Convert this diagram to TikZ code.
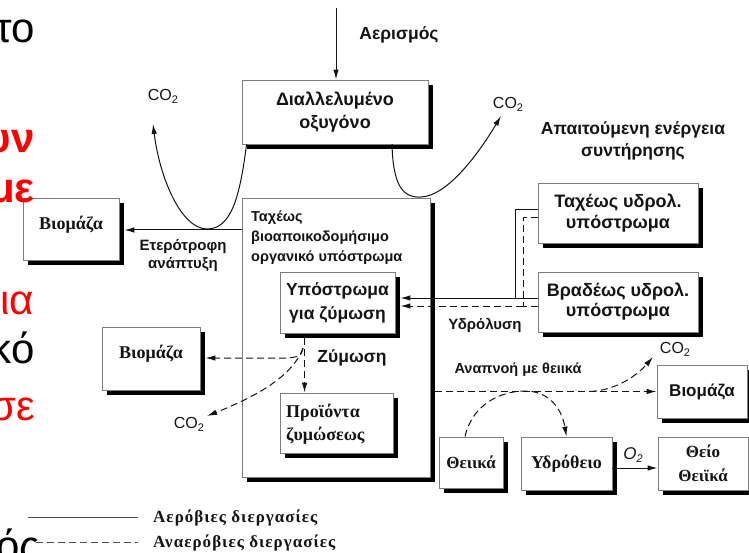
\documentclass[tikz,border=0pt]{standalone}
\usepackage{fontspec}
\setmainfont{Liberation Sans}
\newfontfamily\serifgr{Liberation Serif}
\newfontfamily\serifsp{Liberation Serif}[LetterSpace=6]
\usetikzlibrary{shadows,arrows.meta,calc}
\definecolor{slidered}{RGB}{255,0,0}
\definecolor{boxline}{RGB}{125,125,125}
\definecolor{ink}{RGB}{20,20,20}
\newcommand{\fsz}[2]{\fontsize{#1}{#2}\selectfont}
\newcommand{\cotwo}{CO\raisebox{-0.35ex}{\fsz{11}{11}2}}
\begin{document}
\begin{tikzpicture}[x=1pt,y=-1pt,
  box/.style={draw=boxline, line width=0.9pt, fill=white, inner sep=0pt, align=center, text=ink,
    drop shadow={shadow xshift=5pt, shadow yshift=-5pt, fill=black, opacity=1}},
  lbl/.style={inner sep=0pt, align=center, text=ink},
  conn/.style={draw=ink, line width=1pt},
  arr/.style={-{Latex[length=10pt,width=5.5pt]}},
  dsh/.style={dash pattern=on 7pt off 4pt},
  slide/.style={inner sep=0pt, anchor=base east, font=\fsz{42}{50}}
]
\useasboundingbox (0,0) rectangle (749,553);
\clip (0,0) rectangle (749,553);

% ---- boxes ----
\node[box, minimum width=186pt, minimum height=64pt, font=\bfseries\fsz{18}{23}] (oxy) at (335,112) {Διαλλελυμένο\\οξυγόνο};
\node[box, minimum width=96pt, minimum height=62pt, font=\serifgr\bfseries\fsz{18}{20}] (bio1) at (71,229) {Βιομάζα\\[-8pt]};
\node[box, minimum width=188pt, minimum height=279pt] (big) at (336,337.5) {};
\node[box, minimum width=115pt, minimum height=61pt, font=\bfseries\fsz{17.5}{24}] (sub) at (337.5,302.5) {Υπόστρωμα\\για ζύμωση};
\node[box, minimum width=113pt, minimum height=60pt] (prod) at (336.5,423) {};
\node[box, minimum width=98pt, minimum height=63pt, font=\serifgr\bfseries\fsz{18}{20}] (bio2) at (151,358.5) {Βιομάζα\\[-7pt]};
\node[box, minimum width=160pt, minimum height=60pt, font=\bfseries\fsz{18}{21}] (fast) at (618,213) {Ταχέως υδρολ.\\υπόστρωμα};
\node[box, minimum width=160pt, minimum height=60pt, font=\bfseries\fsz{18}{20}] (slow) at (618,302) {Βραδέως υδρολ.\\υπόστρωμα};
\node[box, minimum width=90pt, minimum height=53pt, font=\bfseries\fsz{17}{18}] (bio3) at (702,391.5) {Βιομάζα};
\node[box, minimum width=64pt, minimum height=51pt, font=\serifgr\bfseries\fsz{17}{18}] (thei) at (471,462.5) {Θειικά};
\node[box, minimum width=91pt, minimum height=53pt, font=\serifgr\bfseries\fsz{18}{18}] (h2s) at (566.5,463.5) {Υδρόθειο};
\node[box, minimum width=90pt, minimum height=53pt, font=\serifgr\bfseries\fsz{17}{24}] (sulf) at (703,463.5) {Θείο\\Θειϊκά};

% ---- texts ----
\node[lbl, anchor=west, align=left, font=\bfseries\fsz{14.5}{20}] (bigT) at (251,238) {Ταχέως\\βιοαποικοδομήσιμο\\οργανικό υπόστρωμα};
\node[lbl, anchor=west, align=left, font=\serifgr\bfseries\fsz{18}{23}] (prodT) at (286,424) {Προϊόντα\\ζυμώσεως};
\node[lbl, font=\bfseries\fsz{17.5}{18}] (aer) at (399,35) {Αερισμός};
\node[lbl, font=\bfseries\fsz{15}{18}] (het) at (183,256) {Ετερότροφη\\ανάπτυξη};
\node[lbl, font=\bfseries\fsz{17.5}{22}] (energy) at (633,141) {Απαιτούμενη ενέργεια\\συντήρησης};
\node[lbl, font=\bfseries\fsz{15}{15}] (hyd) at (485,325) {Υδρόλυση};
\node[lbl, font=\bfseries\fsz{17.5}{18}] (zym) at (352,358) {Ζύμωση};
\node[lbl, font=\bfseries\fsz{14.5}{15}] (resp) at (518,370) {Αναπνοή με θειικά};
\node[lbl, font=\fsz{16}{16}] (co2a) at (163,96) {\cotwo};
\node[lbl, font=\fsz{16}{16}] (co2b) at (508,104) {\cotwo};
\node[lbl, font=\fsz{16}{16}] (co2c) at (189,424) {\cotwo};
\node[lbl, font=\fsz{16}{16}] (co2d) at (675,349) {\cotwo};
\node[lbl, font=\itshape\fsz{17}{17}] (o2) at (633,455) {O\raisebox{-0.35ex}{\fsz{11}{11}2}};

% ---- connectors ----
\coordinate (aerTop) at (336,8);
\draw[conn,arr] (aerTop) -- (aerTop |- oxy.north);

\coordinate (oxyL) at ($(oxy.south west)+(5,0)$);
\coordinate (co2aTip) at (153,124);
\draw[conn,arr] (oxyL) .. controls (240,195) and (232,229) .. (207,229)
   .. controls (182,229) and (160,180) .. (co2aTip);

\coordinate (oxyR) at (392,144);
\coordinate (co2bTip) at (501,116);
\draw[conn,arr] (oxyR) .. controls (393,186) and (403,198) .. (421,197)
   .. controls (446,196) and (476,158) .. (co2bTip);

\coordinate (hetS) at (242,230);
\coordinate (bio1E) at ($(bio1.east)+(5,0)$);
\draw[conn,arr] (hetS) -- (hetS -| bio1E);

% hydrolysis
\coordinate (hjS) at (515,298);
\coordinate (hjD) at (523,306);
\coordinate (subE) at ($(sub.east)+(5,0)$);
\coordinate (fastS) at ($(fast.west)+(0,-3)$);
\coordinate (fastD) at ($(fast.west)+(0,5)$);
\draw[conn] (fastS) -| (hjS);
\draw[conn] (slow.west |- hjS) -- (hjS);
\draw[conn,arr] (hjS) -- (hjS -| subE);
\draw[conn,dsh] (fastD) -| (hjD);
\draw[conn,dsh] (slow.west |- hjD) -- (hjD);
\draw[conn,dsh,arr] (hjD) -- (hjD -| subE);

% fermentation
\coordinate (fStart) at ($(sub.south west)+(25,5)$);
\draw[conn,dsh,arr] (fStart) -- (fStart |- prod.north);
\coordinate (fJ) at (303,348);
\coordinate (fH) at (289,358);
\coordinate (bio2E) at ($(bio2.east)+(5,0)$);
\draw[conn,dsh,arr] (fJ) .. controls (301,356) .. (fH) -- (fH -| bio2E);
\coordinate (co2cTip) at (207,416);
\draw[conn,dsh,arr] (fJ) .. controls (292,378) and (252,398) .. (co2cTip);

% sulfate respiration
\coordinate (bigE) at ($(big.east)+(5,0)$);
\draw[conn,dsh,arr] (bio3.west -| bigE) -- (bio3.west);
\coordinate (theiT) at ($(thei.north)+(-6,0)$);
\draw[conn,dsh,arr] (theiT) .. controls (472,405) and (500,391) .. (525,391)
   .. controls (550,391) and (562,410) .. (h2s.north);
\coordinate (sB) at (590,391.5);
\coordinate (co2dTip) at (653,357);
\draw[conn,dsh,arr] (sB) .. controls (620,390) and (640,372) .. (co2dTip);
\coordinate (o2S) at ($(h2s.east)+(0,4.5)$);
\draw[conn,arr] (o2S) -- (o2S -| sulf.west);

% legend
\coordinate (lg1a) at (28,517);
\coordinate (lg1b) at (138,517);
\coordinate (lg2a) at (36,542);
\coordinate (lg2b) at (138,542);
\draw[draw=black!70, line width=0.9pt] (lg1a) -- (lg1b);
\draw[draw=black!70, line width=0.9pt, dsh] (lg2a) -- (lg2b);
\node[lbl, anchor=west, font=\serifsp\bfseries\fsz{17}{18}] (leg1) at (153,518) {Αερόβιες διεργασίες};
\node[lbl, anchor=west, font=\serifsp\bfseries\fsz{17}{18}] (leg2) at (153,543) {Αναερόβιες διεργασίες};

% slide text fragments at left
\node[slide] (s1) at (35,43) {το};
\node[slide, text=slidered, font=\bfseries\fsz{42}{50}] (s2) at (35,153) {υν};
\node[slide, text=slidered, font=\bfseries\fsz{42}{50}] (s3) at (35,203) {με};
\node[slide, text=slidered] (s4) at (34,314) {ια};
\node[slide] (s5) at (35,363) {κό};
\node[slide, text=slidered] (s6) at (35,420) {σε};
\node[slide] (s7) at (40,560) {ός};
\end{tikzpicture}
\end{document}
